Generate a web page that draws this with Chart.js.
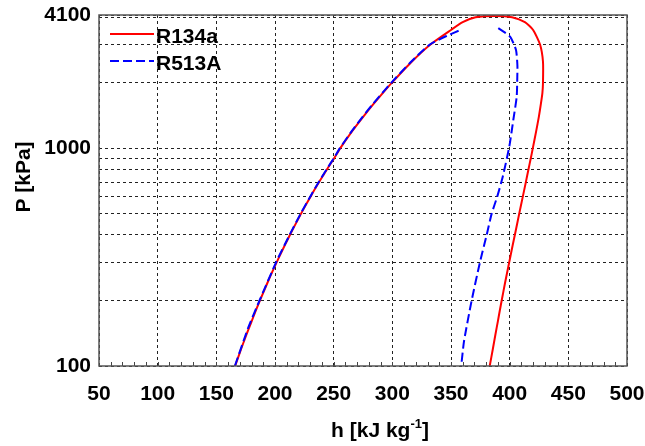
<!DOCTYPE html>
<html>
<head>
<meta charset="utf-8">
<script src="https://cdn.jsdelivr.net/npm/chart.js@4/dist/chart.umd.min.js"></script>
<style>
body { margin: 0; background: #fff; }
</style>
</head>
<body>
<canvas id="myChart" width="645" height="446"></canvas>
<script>
// R134a saturation dome, liquid side going up then vapour side coming down
var r134aP = [100, 120, 140, 160, 180, 200, 240, 280, 320, 360, 400, 450, 500, 550, 600, 650, 700, 750, 800, 900,
              1000, 1200, 1400, 1600, 1800, 2000, 2500, 3000, 3500, 3800, 4000, 4059,
              4000, 3800, 3500, 3000, 2500, 2000, 1800, 1600, 1400, 1200, 1000, 900, 800, 700, 600, 500,
              400, 360, 320, 280, 240, 200, 180, 160, 140, 120, 100];
var r134aH = [166.0, 171.2, 175.8, 180.0, 183.7, 187.2, 193.4, 198.9, 203.9, 208.5, 212.7, 217.6, 222.1, 226.3, 230.3, 234.0, 237.6, 241.0, 244.2, 250.4,
              255.5, 265.8, 275.3, 284.0, 292.0, 299.5, 316.5, 332.5, 350.0, 360.0, 371.0, 388.0,
              402.0, 413.0, 420.0, 425.9, 428.4, 428.4, 427.9, 426.6, 424.9, 422.6, 419.7, 418.0, 416.0, 413.8, 411.2, 408.1,
              404.4, 402.6, 400.7, 398.5, 396.0, 393.2, 391.6, 389.9, 387.9, 385.7, 383.0];

// R513A, the two branches do not meet at the top
var r513aLiqP = [100, 150, 200, 300, 400, 500, 600, 700, 800, 900, 1000, 1200, 1400, 1600, 1800, 2000, 2500, 3000, 3300, 3527];
var r513aLiqH = [165.8, 177.2, 186.8, 201.0, 212.4, 221.8, 230.0, 237.3, 243.9, 250.1, 255.2, 265.4, 274.8, 283.5, 291.5, 299.0, 316.0, 332.0, 347.0, 359.6];
var r513aVapP = [3570, 3260, 2830, 2400, 2135, 1730, 1350, 1020, 741, 600, 500, 400, 300, 200, 130, 100];
var r513aVapH = [390.3, 400.3, 405.4, 406.6, 406.5, 406.0, 403.1, 399.7, 394.1, 389.4, 384.6, 380.4, 374.7, 367.6, 361.1, 358.7];

var pGrid = [100, 200, 300, 400, 500, 600, 700, 800, 900, 1000, 2000, 3000, 4000, 4100];
var pLabels = [100, 1000, 4100];

var font = '"Liberation Sans", Arial, sans-serif';
Chart.defaults.font.family = font;
Chart.defaults.font.weight = 'bold';
Chart.defaults.font.size = 21;
Chart.defaults.color = '#000';

function toPoints(hs, ps) {
  return ps.map(function(p, i) { return {x: hs[i], y: p}; });
}

var r513aData = toPoints(r513aLiqH, r513aLiqP)
  .concat([{x: 375, y: null}])
  .concat(toPoints(r513aVapH, r513aVapP));

var framePlugin = {
  id: 'frame',
  afterDraw: function(chart) {
    var ctx = chart.ctx, ca = chart.chartArea, xs = chart.scales.x;
    ctx.save();
    // small ticks on the h axis every 10
    ctx.strokeStyle = '#444';
    ctx.lineWidth = 1;
    ctx.beginPath();
    for (var v = 60; v < 500; v += 10) {
      var px = Math.round(xs.getPixelForValue(v)) + 0.5;
      ctx.moveTo(px, ca.bottom);
      ctx.lineTo(px, ca.bottom - 4);
    }
    ctx.stroke();
    ctx.strokeStyle = '#555';
    ctx.lineWidth = 1.5;
    ctx.strokeRect(ca.left, ca.top, ca.right - ca.left, ca.bottom - ca.top);

    // legend
    var ds = chart.data.datasets;
    var rows = [ca.top + 19, ca.top + 46];
    ctx.font = 'bold 21px ' + font;
    ctx.textBaseline = 'middle';
    ctx.textAlign = 'left';
    ds.forEach(function(d, i) {
      ctx.strokeStyle = d.borderColor;
      ctx.lineWidth = 2;
      ctx.setLineDash(d.borderDash || []);
      ctx.beginPath();
      ctx.moveTo(ca.left + 11, rows[i]);
      ctx.lineTo(ca.left + 55, rows[i]);
      ctx.stroke();
      ctx.setLineDash([]);
      ctx.fillStyle = '#000';
      ctx.fillText(d.label, ca.left + 57, rows[i] + 3);
    });

    // axis titles
    ctx.save();
    ctx.translate(24, 177);
    ctx.rotate(-Math.PI / 2);
    ctx.textAlign = 'center';
    ctx.fillText('P [kPa]', 0, 0);
    ctx.restore();

    var t1 = 'h [kJ kg', sup = '-1', t2 = ']';
    ctx.font = 'bold 21px ' + font;
    var w1 = ctx.measureText(t1).width, w3 = ctx.measureText(t2).width;
    ctx.font = 'bold 13px ' + font;
    var w2 = ctx.measureText(sup).width;
    var x0 = 380 - (w1 + w2 + w3) / 2, base = 437;
    ctx.textBaseline = 'alphabetic';
    ctx.font = 'bold 21px ' + font;
    ctx.fillText(t1, x0, base);
    ctx.font = 'bold 13px ' + font;
    ctx.fillText(sup, x0 + w1, base - 9);
    ctx.font = 'bold 21px ' + font;
    ctx.fillText(t2, x0 + w1 + w2, base);
    ctx.restore();
  }
};

var ctx = document.getElementById('myChart').getContext('2d');
var myChart = new Chart(ctx, {
  type: 'scatter',
  data: {
    datasets: [{
      label: 'R134a',
      data: toPoints(r134aH, r134aP),
      showLine: true,
      borderColor: '#ff0000',
      borderWidth: 2,
      pointRadius: 0,
      tension: 0.2,
      order: 2
    }, {
      label: 'R513A',
      data: r513aData,
      showLine: true,
      spanGaps: false,
      borderColor: '#0000ff',
      borderWidth: 2,
      borderDash: [9, 4],
      pointRadius: 0,
      tension: 0.2,
      order: 1
    }]
  },
  options: {
    responsive: false,
    animation: false,
    layout: { padding: { top: 15, right: 18, left: 0, bottom: 0 } },
    plugins: {
      legend: { display: false },
      tooltip: { enabled: false }
    },
    scales: {
      x: {
        type: 'linear',
        min: 50,
        max: 500,
        afterFit: function(scale) {
          scale.height = 80;
          scale.paddingLeft = 0;
          scale.paddingRight = 0;
        },
        ticks: { stepSize: 50, autoSkip: false, maxRotation: 0, padding: 16 },
        grid: { color: '#222', lineWidth: 1, drawTicks: false },
        border: { display: false, dash: [3, 3] }
      },
      y: {
        type: 'logarithmic',
        min: 100,
        max: 4100,
        afterFit: function(scale) {
          scale.width = 99;
          scale.paddingTop = 0;
          scale.paddingBottom = 0;
        },
        afterBuildTicks: function(scale) {
          scale.ticks = pGrid.map(function(v) { return {value: v}; });
        },
        ticks: {
          autoSkip: false,
          padding: 8,
          callback: function(v) { return pLabels.indexOf(v) >= 0 ? String(v) : ''; }
        },
        grid: { color: '#222', lineWidth: 1, drawTicks: false },
        border: { display: false, dash: [3, 3] }
      }
    }
  },
  plugins: [framePlugin]
});
</script>
</body>
</html>
